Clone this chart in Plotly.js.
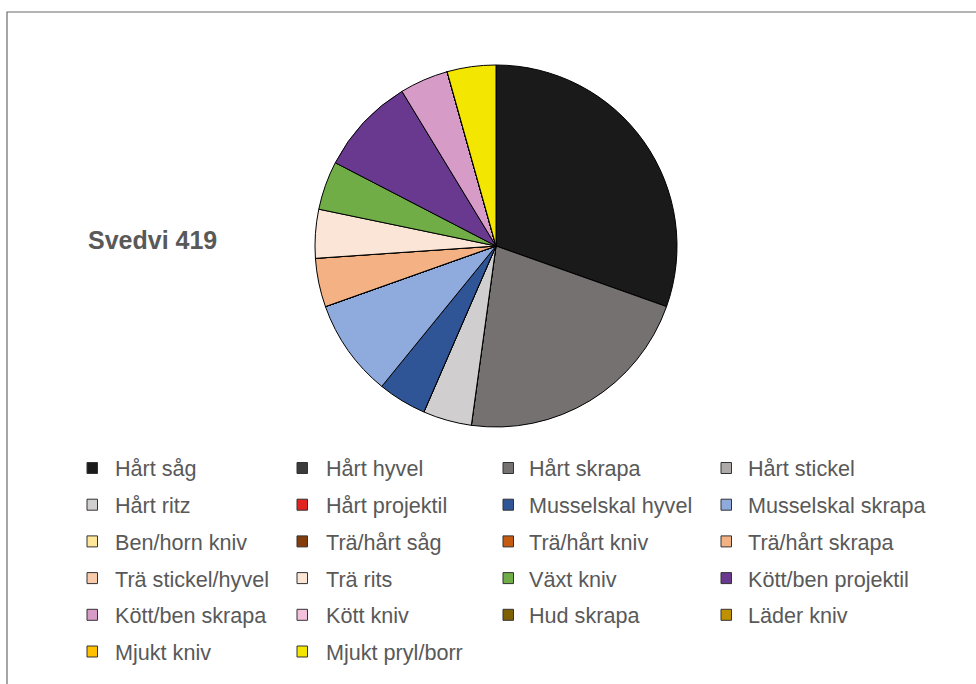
<!DOCTYPE html>
<html>
<head>
<meta charset="utf-8">
<script src="https://cdn.plot.ly/plotly-3.0.1.min.js"></script>
<style>html,body{margin:0;padding:0;background:#fff;}#chart{width:976px;height:684px;}</style>
</head>
<body>
<div id="chart"></div>
<script>
const labels = ["Hårt såg","Hårt hyvel","Hårt skrapa","Hårt stickel","Hårt ritz","Hårt projektil",
  "Musselskal hyvel","Musselskal skrapa","Ben/horn kniv","Trä/hårt såg","Trä/hårt kniv","Trä/hårt skrapa",
  "Trä stickel/hyvel","Trä rits","Växt kniv","Kött/ben projektil","Kött/ben skrapa","Kött kniv",
  "Hud skrapa","Läder kniv","Mjukt kniv","Mjukt pryl/borr"];
const values = [7,0,5,0,1,0,1,2,0,0,0,1,0,1,1,2,1,0,0,0,0,1];
const colors = ["#1a1a1a","#3b3b3b","#767171","#aeaaaa","#d0cece","#e32222",
  "#2f5597","#8faadc","#ffe699","#843c0c","#c55a11","#f4b183",
  "#f8cbad","#fbe5d6","#70ad47","#68398e","#d79bc7","#f4c1dc",
  "#7f6000","#bf9000","#ffc000","#f3e600"];
const chartTitle = "Svedvi 419";

const W = 976, H = 684;
const px = x => x / W;
const py = y => 1 - y / H;
const textColor = "#595959";
const font = "Liberation Sans, Arial, sans-serif";

const colSquare = [92, 302, 508, 726];
const colText = [113, 324, 527, 746];
const rowY0 = 467.5, rowStep = 36.7;

const shapes = [{
  type: "rect", xref: "paper", yref: "paper",
  x0: px(7), x1: px(1000), y0: py(700), y1: py(12),
  line: {color: "#6b6b6b", width: 1.2}, fillcolor: "rgba(0,0,0,0)", layer: "below"
}];
const annotations = [];
labels.forEach((lab, i) => {
  const c = i % 4, r = Math.floor(i / 4);
  const yc = rowY0 + r * rowStep;
  shapes.push({
    type: "rect", xref: "paper", yref: "paper",
    x0: px(colSquare[c] - 5), x1: px(colSquare[c] + 5.5),
    y0: py(yc + 6), y1: py(yc - 5),
    fillcolor: colors[i], line: {color: "#333333", width: 1}
  });
  annotations.push({
    xref: "paper", yref: "paper", x: px(colText[c]), y: py(yc + 1.5),
    xanchor: "left", yanchor: "middle", showarrow: false, text: lab,
    font: {family: font, size: 21.6, color: textColor}
  });
});

const data = [{
  type: "pie", labels: labels, values: values, sort: false, direction: "clockwise",
  rotation: 0, textinfo: "none", hoverinfo: "label+value",
  marker: {colors: colors, line: {color: "#000000", width: 1}},
  domain: {x: [px(315), px(677)], y: [py(427), py(65)]},
  showlegend: false
}];

const layout = {
  width: W, height: H, margin: {l: 0, r: 0, t: 0, b: 0},
  paper_bgcolor: "#ffffff", plot_bgcolor: "#ffffff",
  showlegend: false,
  title: {text: "<b>" + chartTitle + "</b>", x: px(88), xanchor: "left", xref: "paper",
    y: py(240), yanchor: "middle", yref: "paper",
    font: {family: font, size: 25, color: textColor}},
  shapes: shapes, annotations: annotations
};
Plotly.newPlot("chart", data, layout, {displayModeBar: false, staticPlot: true});
</script>
</body>
</html>
